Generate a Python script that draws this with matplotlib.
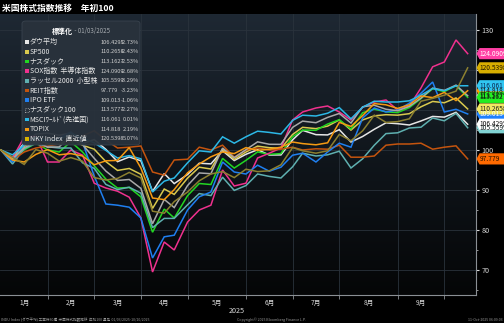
import numpy as np
import pandas as pd
import matplotlib
matplotlib.use('Agg')
import matplotlib.pyplot as plt
import matplotlib.transforms as mtransforms
from matplotlib.colors import LinearSegmentedColormap
from matplotlib.patches import Polygon, FancyBboxPatch, Rectangle

plt.rcParams['font.family'] = ['Noto Sans CJK JP', 'DejaVu Sans']
NARROW = ['Liberation Sans Narrow', 'Noto Sans CJK JP', 'DejaVu Sans']

# weekly closes, rebased to 100 on 01/03/2025
dates = pd.to_datetime([
    '2025-01-03', '2025-01-10', '2025-01-17', '2025-01-24', '2025-01-31',
    '2025-02-07', '2025-02-14', '2025-02-21', '2025-02-28', '2025-03-07',
    '2025-03-14', '2025-03-21', '2025-03-28', '2025-04-04', '2025-04-11',
    '2025-04-17', '2025-04-25', '2025-05-02', '2025-05-09', '2025-05-16',
    '2025-05-23', '2025-05-30', '2025-06-06', '2025-06-13', '2025-06-20',
    '2025-06-27', '2025-07-03', '2025-07-11', '2025-07-18', '2025-07-25',
    '2025-08-01', '2025-08-08', '2025-08-15', '2025-08-22', '2025-08-29',
    '2025-09-05', '2025-09-12', '2025-09-19', '2025-09-26', '2025-10-03',
    '2025-10-10'])

dow = [100, 98.14, 101.77, 103.96, 104.24, 103.68, 104.25, 101.63, 102.60, 100.16,
       97.09, 98.25, 97.31, 89.66, 94.10, 91.60, 93.87, 96.69, 96.53, 99.82,
       97.36, 98.92, 100.07, 98.75, 98.77, 102.54, 104.91, 103.84, 103.77, 105.08,
       102.00, 103.38, 105.18, 106.79, 106.58, 106.25, 107.26, 108.39, 108.22, 109.42,
       106.4295]
sp500 = [100, 98.06, 100.92, 102.67, 101.64, 101.41, 102.90, 101.19, 100.21, 97.10,
         94.89, 95.38, 93.92, 85.39, 90.25, 88.90, 92.98, 95.70, 95.25, 100.26,
         97.65, 99.49, 100.97, 100.58, 100.41, 103.88, 105.67, 105.34, 105.97, 107.52,
         104.97, 107.51, 108.54, 108.83, 108.71, 109.08, 110.80, 112.14, 111.81, 113.01,
         110.2658]
nasdaq = [100, 97.66, 100.04, 101.69, 100.03, 99.50, 102.06, 99.50, 96.05, 92.73,
          90.48, 90.63, 88.28, 79.44, 85.23, 83.00, 88.59, 91.62, 91.37, 97.91,
          95.49, 97.41, 99.53, 98.90, 99.11, 103.32, 104.99, 104.92, 106.49, 107.57,
          105.24, 109.32, 110.20, 109.55, 109.35, 110.59, 112.84, 115.34, 114.59, 116.10,
          113.1627]
sox = [100, 98.0, 103.2, 103.5, 97.0, 97.0, 100.0, 98.7, 91.7, 90.5,
       89.7, 88.2, 83.0, 69.5, 77.0, 75.0, 82.0, 85.0, 86.2, 95.0,
       91.0, 91.7, 98.0, 99.2, 100.5, 107.5, 109.5, 110.5, 111.0, 109.5,
       107.5, 110.7, 112.0, 112.5, 110.0, 111.0, 115.5, 120.8, 122.0, 127.51,
       124.0909]
russell = [100, 96.5, 100.3, 101.7, 100.8, 100.5, 100.5, 96.8, 95.4, 91.4,
           90.1, 90.7, 89.2, 80.6, 82.9, 82.9, 86.3, 89.1, 88.6, 93.2,
           89.9, 91.1, 94.0, 93.4, 93.0, 95.8, 99.2, 98.5, 98.8, 99.7,
           95.5, 97.8, 101.2, 104.1, 104.3, 105.5, 105.7, 108.0, 107.3, 109.15,
           105.5599]
reit = [100, 97.5, 99.5, 100.5, 101.0, 101.5, 102.0, 103.5, 104.8, 102.5,
        100.5, 100.7, 101.0, 94.5, 93.7, 97.5, 97.7, 100.7, 100.0, 101.2,
        98.2, 100.0, 100.5, 100.0, 100.2, 100.7, 100.0, 100.3, 100.2, 101.2,
        98.2, 98.2, 98.5, 101.2, 101.5, 101.5, 101.7, 100.2, 100.7, 101.04,
        97.779]
ipo = [100, 97.0, 101.5, 103.0, 102.0, 103.0, 104.5, 102.0, 93.5, 86.5,
       86.2, 85.7, 83.0, 73.0, 78.3, 78.7, 85.0, 88.3, 89.5, 97.0,
       94.5, 94.0, 96.2, 94.7, 95.7, 98.7, 99.2, 97.0, 99.5, 101.7,
       100.7, 108.0, 110.5, 109.5, 110.0, 111.7, 114.2, 117.0, 109.5, 110.18,
       109.013]
ndx = [100, 97.75, 100.54, 102.10, 100.71, 100.77, 103.69, 101.35, 97.93, 94.73,
       92.39, 92.63, 90.41, 81.58, 87.64, 85.61, 91.12, 94.26, 94.07, 100.48,
       98.07, 100.07, 102.04, 101.43, 101.41, 105.66, 107.22, 106.82, 108.15, 109.13,
       106.74, 110.81, 111.19, 110.19, 109.80, 110.91, 112.97, 115.47, 114.90, 116.22,
       113.5777]
msci = [100, 98.8, 101.2, 103.0, 102.5, 102.4, 104.2, 103.0, 101.8, 99.9,
        98.0, 98.6, 97.8, 89.5, 92.2, 93.0, 96.8, 99.8, 99.5, 103.3,
        101.7, 103.3, 104.7, 104.4, 104.0, 107.4, 108.7, 108.5, 109.2, 110.6,
        107.8, 110.7, 112.2, 112.0, 112.0, 112.3, 113.7, 115.4, 114.8, 116.049,
        116.061]
topix = [100, 97.5, 97.0, 98.9, 100.1, 98.8, 99.1, 98.5, 96.3, 97.3,
         97.4, 100.6, 95.5, 88.0, 87.6, 90.1, 94.3, 96.5, 98.3, 99.5,
         99.1, 100.6, 99.9, 100.2, 100.7, 102.0, 101.6, 101.3, 101.8, 106.9,
         105.9, 108.6, 111.6, 111.3, 110.4, 111.3, 113.5, 113.1, 114.4, 112.36,
         114.818]
nky = [100, 98.2, 96.4, 100.1, 99.2, 97.2, 98.1, 97.2, 93.1, 92.5,
       92.9, 94.4, 93.0, 84.7, 84.2, 87.1, 89.5, 92.3, 94.0, 94.6,
       93.1, 95.2, 94.6, 94.8, 96.3, 100.6, 99.8, 99.2, 99.8, 103.9,
       102.3, 104.8, 108.7, 106.9, 107.1, 107.8, 112.2, 112.9, 113.7, 114.72,
       120.5398]

names = ['ダウ平均', 'SP500', 'ナスダック', 'SOX指数  半導体指数', 'ラッセル2000  小型株',
         'REIT指数', 'IPO ETF', 'ナスダック100', 'MSCIﾜｰﾙﾄﾞ(先進国)', 'TOPIX',
         'NKY Index  直近値']
series = [dow, sp500, nasdaq, sox, russell, reit, ipo, ndx, msci, topix, nky]
line_colors = ['#e6e6e6', '#d9c94e', '#22d622', '#f0318e', '#5fb0b0', '#c4540e',
               '#1f7ff0', '#a9a9a9', '#2cb8e6', '#f59a12', '#8c8030']
tag_colors = ['#ffffff', '#f2e862', '#22ee22', '#ff3fa4', '#80d2d2', '#ff6a00',
              '#1e80ff', '#c8c8c8', '#30c6f2', '#ff9c00', '#d8ae00']
tag_text = ['#111111', '#222222', '#112211', '#ffffff', '#112222', '#221100',
            '#ffffff', '#111111', '#0a2a55', '#221100', '#221a00']
# end-value tags: hidden ones first so the others sit on top
tag_order = [4, 6, 7, 9, 5, 0, 1, 2, 8, 10, 3]

W, H = 504, 323
fig = plt.figure(figsize=(W / 100, H / 100), dpi=100, facecolor='black')
ax = fig.add_axes([0, 1 - 295 / H, 476 / W, (295 - 14) / H])
ax.set_facecolor('black')

# dark slate gradient behind the plot
cmap = LinearSegmentedColormap.from_list('bg', ['#050607', '#10161c', '#1e2833'])
grad = np.linspace(0, 1, 256).reshape(-1, 1)
ax.imshow(grad, extent=[0, 1, 0, 1], transform=ax.transAxes, origin='lower',
          aspect='auto', cmap=cmap, zorder=0)

# month separators sit on the last weekly point before each month
month_starts = pd.date_range('2025-02-01', '2025-10-01', freq='MS')
bounds = [dates[dates < m][-1] for m in month_starts]
edges = [dates[0]] + bounds
mids = [edges[i] + (edges[i + 1] - edges[i]) / 2 for i in range(len(bounds))]

for b in bounds:
    ax.axvline(b, color='#2a333c', lw=0.6, zorder=1)
for yv in range(70, 131, 10):
    ax.axhline(yv, color='#2a333c', lw=0.6, zorder=1)

for vals, c in zip(series, line_colors):
    ax.plot(dates, vals, color=c, lw=1.1, zorder=3, solid_joinstyle='miter')

ax.set_xlim(dates[0] - pd.Timedelta(days=0.5), dates[-1] + pd.Timedelta(days=5))
ax.set_ylim(63.75, 134)

for s in ['left', 'top']:
    ax.spines[s].set_visible(False)
for s in ['bottom', 'right']:
    ax.spines[s].set_color('#8a8f94')
    ax.spines[s].set_linewidth(0.8)

ax.yaxis.tick_right()
ax.set_yticks([70, 80, 90, 100, 110, 120, 130])
ax.set_yticks(np.arange(65, 134, 5), minor=True)
ax.tick_params(axis='y', which='major', colors='#d8d8d8', length=2.5, width=0.8, pad=1.5)
ax.tick_params(axis='y', which='minor', colors='#b0b0b0', length=1.5, width=0.6)
for lab in ax.get_yticklabels():
    lab.set_family(NARROW)
    lab.set_fontsize(5.2)

ax.set_xticks(mids)
ax.set_xticklabels([f'{i}月' for i in range(1, 10)])
ax.set_xticks(bounds, minor=True)
ax.tick_params(axis='x', which='major', length=0, colors='#d8d8d8', labelsize=4.8, pad=3)
ax.tick_params(axis='x', which='minor', length=3, color='#8a8f94', width=0.6)

# value tags on the right axis
tr = mtransforms.blended_transform_factory(fig.transFigure, ax.transData)
x_tip, x_body, x_end = 476.5 / W, 479.5 / W, 506 / W
hh = 1.4
for i in tag_order:
    v = series[i][-1]
    poly = Polygon([(x_tip, v), (x_body, v + hh), (x_end, v + hh), (x_end, v - hh),
                    (x_body, v - hh)], closed=True, transform=tr, facecolor=tag_colors[i],
                   edgecolor='none', clip_on=False, zorder=6)
    ax.add_patch(poly)
    ax.text(479.5 / W, v, str(v), transform=tr, fontsize=4.8, color=tag_text[i],
            ha='left', va='center', clip_on=False, zorder=7, family=NARROW)

# legend panel
panel = FancyBboxPatch((22 / W, 1 - 145 / H), 118 / W, 124 / H,
                       boxstyle='round,pad=0,rounding_size=0.008',
                       transform=fig.transFigure, facecolor='#29323c', alpha=0.95,
                       edgecolor='#3a4550', lw=0.6, zorder=8, clip_on=False)
ax.add_patch(panel)
fig.text(52 / W, 1 - 31 / H, '標準化', fontsize=5.0, color='white', weight='bold',
         va='center', zorder=9)
fig.text(73 / W, 1 - 31 / H, ' - 01/03/2025', fontsize=4.4, color='#a8adb2',
         va='center', zorder=9, family=NARROW)

for i, (name, vals) in enumerate(zip(names, series)):
    yp = 1 - (42 + i * 9.7) / H
    if i == 7:
        sq = Rectangle((25 / W, yp - 1.8 / H), 3.6 / W, 3.6 / H, transform=fig.transFigure,
                       facecolor='#29323c', edgecolor='#bbbbbb', lw=0.6, ls=':', zorder=9)
    else:
        sq = Rectangle((25 / W, yp - 1.8 / H), 3.6 / W, 3.6 / H, transform=fig.transFigure,
                       facecolor=line_colors[i] if i != 10 else '#d8b400',
                       edgecolor='none', zorder=9)
    fig.patches.append(sq)
    sq.set_figure(fig)
    pct = (vals[-1] / vals[-2] - 1) * 100
    fig.text(29.5 / W, yp, name, fontsize=5.0, color='#e8e8e8', va='center', zorder=9)
    fig.text(100.5 / W, yp, str(vals[-1]), fontsize=4.1, color='#d0d0d0', va='center',
             zorder=9, family=NARROW)
    fig.text(139 / W, yp, f'{pct:.2f}%', fontsize=4.1, color='#d0d0d0', va='center',
             ha='right', zorder=9, family=NARROW)

fig.text(2 / W, 1 - 8 / H, '米国株式指数推移\u3000年初100', fontsize=6.3, color='white',
         weight='bold', va='center')
fig.text(237 / W, 1 - 311 / H, '2025', fontsize=5.2, color='#d8d8d8', ha='center',
         va='center', family=NARROW)
fig.text(1 / W, 1 - 320 / H, 'INDU Index (ダウ平均) 工業株30種  米国株式指数推移  年初100 週足  01/03/2025-10/10/2025',
         fontsize=2.6, color='#9a9a9a', va='center')
fig.text(272 / W, 1 - 320 / H, 'Copyright© 2025 Bloomberg Finance L.P.', fontsize=2.6,
         color='#9a9a9a', ha='center', va='center')
fig.text(503 / W, 1 - 320 / H, '11-Oct-2025 06:09:03', fontsize=2.6, color='#9a9a9a',
         ha='right', va='center')

fig.savefig('out.png', dpi=100, facecolor='black')
